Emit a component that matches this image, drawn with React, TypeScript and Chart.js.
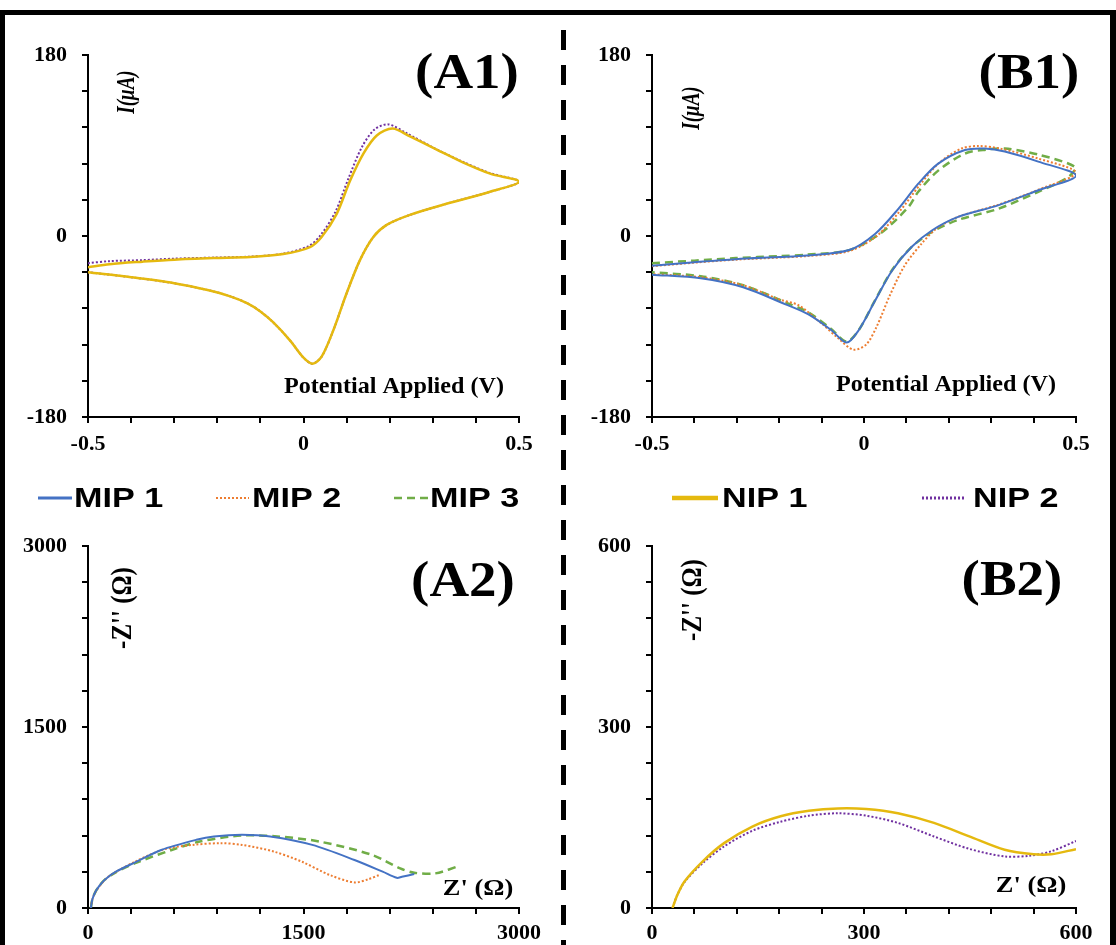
import React, { useEffect, useRef } from "react";
import { Chart, registerables } from "chart.js";

Chart.register(...registerables);

// ---------------- Data ----------------
// (A1) Cyclic voltammetry of NIP electrodes: potential (V) and current (µA)
const nip1CvV = [-0.5, -0.45, -0.373, -0.3, -0.208, -0.124, -0.047, 0.015, 0.042, 0.077, 0.108, 0.139, 0.17, 0.207, 0.247, 0.309, 0.371, 0.433, 0.5, 0.433, 0.34, 0.247, 0.193, 0.162, 0.131, 0.1, 0.069, 0.042, 0.021, 0.0, -0.031, -0.07, -0.1, -0.13, -0.17, -0.22, -0.3, -0.4, -0.5];
const nip1CvI = [-31, -28, -25.5, -23.5, -22, -21, -18, -11, -1, 22, 55, 82, 100, 107, 99, 86, 73, 62, 54, 44, 33, 21, 11, -1, -24, -57, -94, -120, -127, -121, -104, -86, -75, -67, -60, -54, -47, -41, -36];
const nip2CvV = [-0.5, -0.45, -0.373, -0.3, -0.208, -0.124, -0.047, 0.012, 0.04, 0.074, 0.105, 0.135, 0.165, 0.197, 0.24, 0.305, 0.371, 0.433, 0.5, 0.433, 0.34, 0.247, 0.193, 0.162, 0.131, 0.1, 0.069, 0.042, 0.021, 0.0, -0.031, -0.07, -0.1, -0.13, -0.17, -0.22, -0.3, -0.4, -0.5];
const nip2CvI = [-27, -25, -24, -22.5, -21.5, -20.5, -17.5, -10, 1, 24, 58, 88, 106, 111, 102, 87, 73.5, 62.5, 54, 44, 33, 21, 11, -1, -24, -57, -94, -120, -127, -121, -104, -86, -75, -67, -60, -54, -47, -41, -36];

// (B1) Cyclic voltammetry of MIP electrodes
const mip1CvV = [-0.5, -0.4, -0.302, -0.2, -0.135, -0.035, 0.026, 0.081, 0.128, 0.175, 0.238, 0.285, 0.332, 0.411, 0.5, 0.411, 0.316, 0.222, 0.16, 0.112, 0.066, 0.026, -0.013, -0.041, -0.076, -0.131, -0.185, -0.285, -0.385, -0.5];
const mip1CvI = [-29.5, -26, -23, -21, -19.5, -14, 2, 27, 52, 72, 85.5, 87, 84, 74, 60, 45.5, 30.5, 19, 5.5, -11, -34.5, -64.5, -94, -106, -94, -78, -68, -51, -42, -38.5];
const mip2CvV = [-0.5, -0.4, -0.302, -0.2, -0.135, -0.035, 0.03, 0.085, 0.132, 0.178, 0.23, 0.269, 0.32, 0.411, 0.5, 0.411, 0.316, 0.222, 0.17, 0.135, 0.095, 0.06, 0.03, 0.005, -0.025, -0.06, -0.1, -0.154, -0.2, -0.285, -0.385, -0.5];
const mip2CvI = [-30, -26.5, -23.5, -21.5, -20, -15, 0, 25, 51, 73, 87, 89.5, 87, 77, 63, 46, 31, 19, 7, -8, -30, -60, -90, -108, -113, -102, -87, -69, -63, -49, -41, -38];
const mip3CvV = [-0.5, -0.4, -0.302, -0.2, -0.135, -0.035, 0.04, 0.105, 0.128, 0.175, 0.238, 0.29, 0.332, 0.411, 0.5, 0.48, 0.411, 0.316, 0.222, 0.16, 0.112, 0.066, 0.026, -0.013, -0.041, -0.076, -0.131, -0.185, -0.285, -0.385, -0.5];
const mip3CvI = [-27, -24.5, -22, -20, -18.5, -14, 3, 29, 44, 65, 82, 86, 87, 81, 68, 58, 44, 27, 16, 4, -11, -34, -64, -94, -105, -93, -76, -66, -49, -40, -36];

// (A2) Nyquist plots of MIP electrodes: Z' (Ω) and -Z'' (Ω)
const mip1EisRe = [20, 30, 50, 80, 117, 200, 338, 509, 754, 876, 1072, 1268, 1561, 1855, 2051, 2149, 2185, 2271];
const mip1EisIm = [0, 70, 130, 185, 235, 305, 384, 481, 565, 593, 607, 593, 523, 398, 301, 250, 259, 281];
const mip2EisRe = [20, 30, 50, 80, 142, 338, 533, 729, 925, 1072, 1292, 1488, 1684, 1855, 1953, 2026];
const mip2EisIm = [0, 70, 128, 180, 260, 390, 487, 523, 537, 523, 468, 384, 273, 212, 239, 273];
const mip3EisRe = [20, 30, 50, 80, 117, 200, 338, 582, 778, 1072, 1317, 1610, 1977, 2173, 2271, 2418, 2589];
const mip3EisIm = [0, 70, 130, 185, 235, 300, 376, 481, 551, 601, 593, 551, 440, 328, 292, 287, 351];

// (B2) Nyquist plots of NIP electrodes
const nip1EisRe = [29, 36, 46, 71.5, 102, 142, 182, 222, 263, 303, 348, 399, 449, 499, 540, 565, 600];
const nip1EisIm = [0, 22, 44, 77, 107.5, 135, 152, 161, 165, 164, 157, 141, 118.6, 96.5, 89, 89, 97.6];
const nip2EisRe = [29, 36, 46, 71.5, 102, 142, 182, 222, 263, 303, 348, 399, 449, 499, 534, 565, 600];
const nip2EisIm = [0, 22, 43, 74, 102, 128, 143, 153, 157, 153, 141, 118.6, 98, 85.5, 86.6, 94, 111];

// Series names
const mipNames = ["MIP 1", "MIP 2", "MIP 3"];
const nipNames = ["NIP 1", "NIP 2"];

// Tick labels shown on the axes
const cvXLabels = [-0.5, 0, 0.5];
const cvYLabels = [-180, 0, 180];
const mipEisLabels = [0, 1500, 3000];
const nipEisLabels = [0, 300, 600];

// ---------------- Styles ----------------
const SERIF = "'Liberation Serif', 'Times New Roman', serif";
const SANS = "'Liberation Sans', Arial, sans-serif";
const BLUE = "#4472C4";
const ORANGE = "#ED7D31";
const GREEN = "#70AD47";
const GOLD = "#E5B90F";
const PURPLE = "#7030A0";

Chart.defaults.font.family = SERIF;
Chart.defaults.color = "#000";

const toPts = (xs: number[], ys: number[]) => xs.map((x, i) => ({ x, y: ys[i] }));

type TextItem = { text: string; x: number; y: number; font: string; rotate?: number; sx?: number; sy?: number };
type LegendItem = { dataset: number; x1: number; x2: number; tx: number; y: number; width?: number };

const LEGEND_FONT = `bold 28px ${SANS}`;
const LEGEND_SX = 1.22;

function overlayPlugin(texts: TextItem[], legend: LegendItem[]) {
  return {
    id: "overlay",
    afterDraw(chart: any) {
      const ctx: CanvasRenderingContext2D = chart.ctx;
      for (const t of texts) {
        ctx.save();
        ctx.font = t.font;
        ctx.fillStyle = "#000";
        ctx.textAlign = "center";
        ctx.textBaseline = "middle";
        ctx.translate(t.x, t.y);
        if (t.rotate) ctx.rotate(t.rotate);
        ctx.scale(t.sx ?? 1, t.sy ?? 1);
        ctx.fillText(t.text, 0, 0);
        ctx.restore();
      }
      for (const l of legend) {
        const ds: any = chart.data.datasets[l.dataset];
        ctx.save();
        ctx.strokeStyle = ds.borderColor;
        ctx.lineWidth = l.width ?? ds.borderWidth;
        ctx.setLineDash(ds.borderDash || []);
        ctx.beginPath();
        ctx.moveTo(l.x1, l.y);
        ctx.lineTo(l.x2, l.y);
        ctx.stroke();
        ctx.setLineDash([]);
        ctx.fillStyle = "#000";
        ctx.font = LEGEND_FONT;
        ctx.textAlign = "left";
        ctx.textBaseline = "middle";
        ctx.translate(l.tx, l.y + 1);
        ctx.scale(LEGEND_SX, 1);
        ctx.fillText(ds.label, 0, 0);
        ctx.restore();
      }
    },
  };
}

function line(label: string, xs: number[], ys: number[], color: string, width: number, dash: number[] = []) {
  return {
    label,
    data: toPts(xs, ys),
    borderColor: color,
    backgroundColor: color,
    borderWidth: width,
    borderDash: dash,
    showLine: true,
    pointRadius: 0,
    tension: 0.3,
    fill: false,
  };
}

function tickCb(labels: number[]) {
  return (value: any) => {
    const v = Number(value);
    const hit = labels.find((l) => Math.abs(l - v) < 1e-6);
    return hit === undefined ? "" : String(hit);
  };
}

type AxisSpec = { min: number; max: number; step: number; labels: number[] };

function axis(spec: AxisSpec, horizontal: boolean, size: number, pad: number) {
  return {
    type: "linear",
    position: horizontal ? "bottom" : "left",
    min: spec.min,
    max: spec.max,
    border: { color: "#000", width: 2 },
    grid: { drawOnChartArea: false, drawTicks: true, tickLength: 6, color: "#000", lineWidth: 2 },
    ticks: {
      stepSize: spec.step,
      autoSkip: false,
      maxRotation: 0,
      padding: pad,
      color: "#000",
      font: { size: 22, weight: "bold", family: SERIF },
      callback: tickCb(spec.labels),
    },
    afterFit: (s: any) => {
      if (horizontal) s.height = size;
      else s.width = size;
    },
  };
}

function buildConfig(o: {
  datasets: any[];
  x: AxisSpec;
  y: AxisSpec;
  padTop: number;
  padRight: number;
  yAxisWidth: number;
  xAxisHeight: number;
  xPad: number;
  texts: TextItem[];
  legend: LegendItem[];
}) {
  return {
    type: "scatter",
    data: { datasets: o.datasets },
    options: {
      responsive: false,
      animation: false,
      devicePixelRatio: 1,
      layout: { padding: { top: o.padTop, right: o.padRight, left: 0, bottom: 0 } },
      plugins: { legend: { display: false }, tooltip: { enabled: false } },
      scales: {
        x: axis(o.x, true, o.xAxisHeight, o.xPad),
        y: axis(o.y, false, o.yAxisWidth, 15),
      },
    },
    plugins: [overlayPlugin(o.texts, o.legend)],
  };
}

const ROT = -Math.PI / 2;
const panelFont = `bold 50px ${SERIF}`;
const titleFont = `bold 23px ${SERIF}`;
const zFont = `bold 25px ${SERIF}`;
const currentFont = `italic bold 19px ${SERIF}`;

const cvX: AxisSpec = { min: -0.5, max: 0.5, step: 0.1, labels: cvXLabels };
const cvY: AxisSpec = { min: -180, max: 180, step: 36, labels: cvYLabels };
const mipEis: AxisSpec = { min: 0, max: 3000, step: 300, labels: mipEisLabels };
const nipEis: AxisSpec = { min: 0, max: 600, step: 60, labels: nipEisLabels };

const configA1 = () =>
  buildConfig({
    datasets: [
      line(nipNames[0], nip1CvV, nip1CvI, GOLD, 2.5),
      line(nipNames[1], nip2CvV, nip2CvI, PURPLE, 2, [2, 2]),
    ],
    x: cvX,
    y: cvY,
    padTop: 55,
    padRight: 41,
    yAxisWidth: 88,
    xAxisHeight: 53,
    xPad: 8,
    texts: [
      { text: "(A1)", x: 467, y: 75, font: panelFont, sx: 1.1 },
      { text: "I(μA)", x: 128, y: 92, font: currentFont, rotate: ROT, sy: 1.3 },
      { text: "Potential Applied (V)", x: 394, y: 387, font: titleFont, sx: 1.05 },
    ],
    legend: [],
  });

const configB1 = () =>
  buildConfig({
    datasets: [
      line(mipNames[0], mip1CvV, mip1CvI, BLUE, 2),
      line(mipNames[1], mip2CvV, mip2CvI, ORANGE, 2, [2, 2]),
      line(mipNames[2], mip3CvV, mip3CvI, GREEN, 2.5, [8, 5]),
    ],
    x: cvX,
    y: cvY,
    padTop: 55,
    padRight: 40,
    yAxisWidth: 87,
    xAxisHeight: 53,
    xPad: 8,
    texts: [
      { text: "(B1)", x: 464, y: 75, font: panelFont, sx: 1.1 },
      { text: "I(μA)", x: 128, y: 108, font: currentFont, rotate: ROT, sy: 1.3 },
      { text: "Potential Applied (V)", x: 381, y: 385, font: titleFont, sx: 1.05 },
    ],
    legend: [],
  });

const configA2 = () =>
  buildConfig({
    datasets: [
      line(mipNames[0], mip1EisRe, mip1EisIm, BLUE, 2),
      line(mipNames[1], mip2EisRe, mip2EisIm, ORANGE, 2, [2, 2]),
      line(mipNames[2], mip3EisRe, mip3EisIm, GREEN, 2.5, [8, 5]),
    ],
    x: mipEis,
    y: mipEis,
    padTop: 76,
    padRight: 41,
    yAxisWidth: 88,
    xAxisHeight: 37,
    xPad: 6,
    texts: [
      { text: "(A2)", x: 463, y: 113, font: panelFont, sx: 1.1 },
      { text: "-Z'' (Ω)", x: 123, y: 138, font: zFont, rotate: ROT, sy: 1.2 },
      { text: "Z' (Ω)", x: 478, y: 419, font: titleFont, sx: 1.15 },
    ],
    legend: [
      { dataset: 0, x1: 38, x2: 72, tx: 74, y: 28, width: 3 },
      { dataset: 1, x1: 216, x2: 249, tx: 252, y: 28 },
      { dataset: 2, x1: 394, x2: 428, tx: 430, y: 28 },
    ],
  });

const configB2 = () =>
  buildConfig({
    datasets: [
      line(nipNames[0], nip1EisRe, nip1EisIm, GOLD, 2.5),
      line(nipNames[1], nip2EisRe, nip2EisIm, PURPLE, 2, [2, 2]),
    ],
    x: nipEis,
    y: nipEis,
    padTop: 76,
    padRight: 40,
    yAxisWidth: 87,
    xAxisHeight: 37,
    xPad: 6,
    texts: [
      { text: "(B2)", x: 447, y: 112, font: panelFont, sx: 1.1 },
      { text: "-Z'' (Ω)", x: 128, y: 130, font: zFont, rotate: ROT, sy: 1.2 },
      { text: "Z' (Ω)", x: 466, y: 416, font: titleFont, sx: 1.15 },
    ],
    legend: [
      { dataset: 0, x1: 107, x2: 153, tx: 157, y: 28, width: 4.5 },
      { dataset: 1, x1: 357, x2: 401, tx: 408, y: 28, width: 3 },
    ],
  });

function Panel(props: { left: number; top: number; width: number; height: number; make: () => any }) {
  const ref = useRef<HTMLCanvasElement | null>(null);
  useEffect(() => {
    if (!ref.current) return;
    const chart = new Chart(ref.current, props.make());
    return () => chart.destroy();
  }, []);
  return (
    <canvas
      ref={ref}
      width={props.width}
      height={props.height}
      style={{ position: "absolute", left: props.left, top: props.top, width: props.width, height: props.height }}
    />
  );
}

export default function App() {
  return (
    <div
      style={{
        position: "absolute",
        left: 0,
        top: 0,
        width: 1116,
        height: 945,
        overflow: "hidden",
        background: "#fff",
      }}
    >
      <Panel left={0} top={0} width={560} height={470} make={configA1} />
      <Panel left={565} top={0} width={551} height={470} make={configB1} />
      <Panel left={0} top={470} width={560} height={475} make={configA2} />
      <Panel left={565} top={470} width={551} height={475} make={configB2} />
      {/* outer frame */}
      <div
        style={{
          position: "absolute",
          left: 0,
          top: 10,
          width: 1116,
          height: 935,
          boxSizing: "border-box",
          borderTop: "5px solid #000",
          borderLeft: "5px solid #000",
          borderRight: "6px solid #000",
          pointerEvents: "none",
        }}
      />
      {/* dashed divider */}
      <div
        style={{
          position: "absolute",
          left: 561,
          top: 30,
          width: 5,
          height: 915,
          background: "repeating-linear-gradient(to bottom, #000 0px, #000 20px, transparent 20px, transparent 35px)",
          pointerEvents: "none",
        }}
      />
    </div>
  );
}
